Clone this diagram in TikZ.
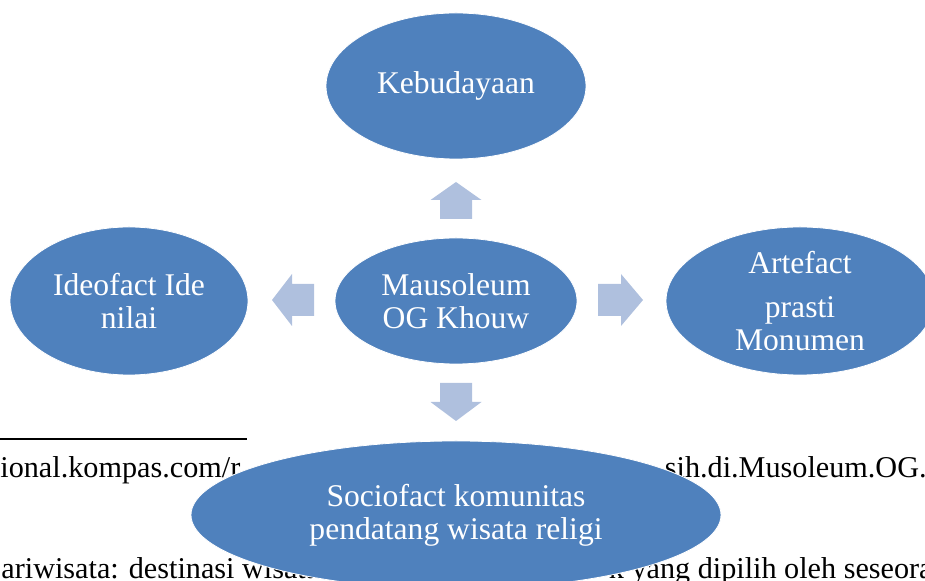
\documentclass[tikz,border=0pt]{standalone}
\usepackage{fontspec}
\setmainfont{Liberation Serif}
\usetikzlibrary{shapes,shapes.geometric,positioning}
\definecolor{ovblue}{RGB}{79,129,189}
\definecolor{arrblue}{RGB}{175,192,222}
\tikzset{ov/.style={draw=white, line width=0.4pt, fill=ovblue, ellipse, text=white, align=center, inner sep=0pt, font=\fontsize{15.8}{16.5}\selectfont}}
\tikzstyle{arr}=[fill=arrblue]
\tikzstyle{bg}=[inner sep=0pt, font=\fontsize{15.1}{17}\selectfont]

\begin{document}
\begin{tikzpicture}[x=0.5pt, y=-0.5pt]
\useasboundingbox (0,0) rectangle (925,581);
\clip (0,0) rectangle (925,581);
% page text behind the diagram
\draw[line width=1pt] (0,439) -- (247,439);
\node[bg, anchor=base west] (L1) at (0,478) {ional.kompas.com/r};
\node[bg, anchor=base east] (R1) at (927,478) {sih.di.Musoleum.OG.};
\node[bg, anchor=base west] (L2) at (1,578) {ariwisata: destinasi wisata};
\node[bg, anchor=base east] (R2) at (933,578) {k yang dipilih oleh seseora};
% ovals
\node[ov, minimum width=121pt, minimum height=63pt] (M) at (456,301) {Mausoleum\\OG Khouw};
\node[ov, minimum width=130pt, minimum height=73pt][above of =M, node distance=107.5pt] (K) {Kebudayaan};
\node[ov, minimum width=119pt, minimum height=74pt][left of =M, node distance=163.5pt] (I) {Ideofact Ide\\nilai};
\node[ov, minimum width=134pt, minimum height=74pt][right of =M, node distance=172pt] (A) {Artefact\\[5.5pt]prasti\\Monumen};
\node[ov, minimum width=265pt, minimum height=74pt][below of =M, node distance=107pt] (S) {Sociofact komunitas\\pendatang wisata religi};
% block arrows
\fill[arr] (440,219) -- (440,200) -- (430.5,200) -- (456,182) -- (481.5,200) -- (472,200) -- (472,219) -- cycle;
\fill[arr] (440,383) -- (440,402) -- (430.5,402) -- (456,421) -- (481.5,402) -- (472,402) -- (472,383) -- cycle;
\fill[arr] (314,284) -- (292,284) -- (292,274) -- (272,300) -- (292,326) -- (292,316) -- (314,316) -- cycle;
\fill[arr] (598,284) -- (621,284) -- (621,274) -- (643,300) -- (621,326) -- (621,316) -- (598,316) -- cycle;
\end{tikzpicture}
\end{document}
